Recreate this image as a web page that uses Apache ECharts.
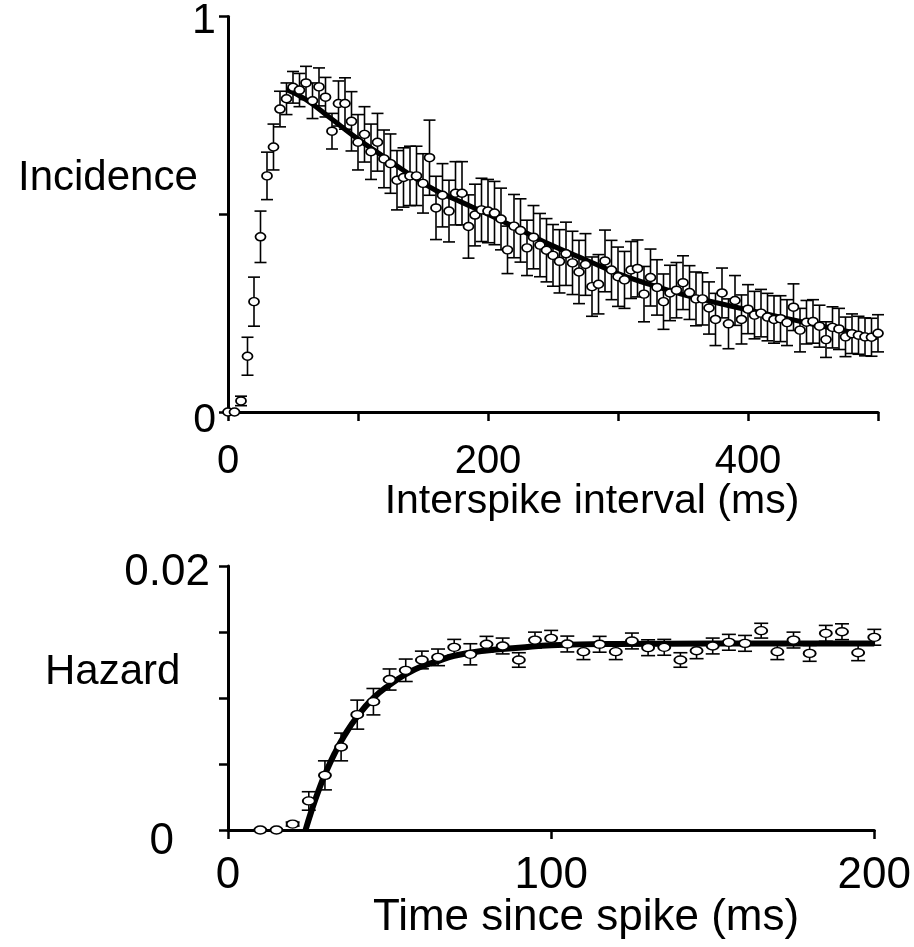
<!DOCTYPE html>
<html><head><meta charset="utf-8">
<script src="https://cdn.jsdelivr.net/npm/echarts@6/dist/echarts.min.js"></script>
<style>html,body{margin:0;padding:0;background:#fff}#c{width:914px;height:947px}</style>
</head><body><div id="c"></div>
<script>
// ---------- Top panel: incidence vs interspike interval ----------
const isiTimes = [0,5,10,15,20,25,30,35,40,45,50,55,60,65,70,75,80,85,90,95,
  100,105,110,115,120,125,130,135,140,145,150,155,160,165,170,175,180,185,190,195,
  200,205,210,215,220,225,230,235,240,245,250,255,260,265,270,275,280,285,290,295,
  300,305,310,315,320,325,330,335,340,345,350,355,360,365,370,375,380,385,390,395,
  400,405,410,415,420,425,430,435,440,445,450,455,460,465,470,475,480,485,490,495,500];
const incidence = [0,0,0.028,0.141,0.279,0.443,0.597,0.670,0.766,0.792,
  0.821,0.814,0.832,0.787,0.822,0.796,0.710,0.780,0.780,0.735,
  0.682,0.702,0.658,0.682,0.640,0.628,0.586,0.593,0.597,0.597,
  0.578,0.643,0.516,0.548,0.508,0.553,0.553,0.469,0.498,0.511,
  0.508,0.503,0.488,0.410,0.470,0.459,0.415,0.442,0.422,0.409,
  0.396,0.381,0.400,0.377,0.354,0.373,0.317,0.323,0.382,0.359,
  0.342,0.334,0.359,0.363,0.298,0.340,0.315,0.279,0.301,0.308,
  0.327,0.302,0.286,0.286,0.263,0.234,0.301,0.223,0.282,0.234,
  0.260,0.245,0.250,0.240,0.234,0.236,0.226,0.265,0.207,0.227,
  0.229,0.217,0.183,0.214,0.210,0.190,0.198,0.194,0.190,0.189,0.199];
const incidenceErr = [0,0,0.012,0.048,0.062,0.065,0.060,0.058,0.045,0.040,
  0.040,0.042,0.042,0.045,0.048,0.050,0.045,0.057,0.065,0.075,
  0.070,0.070,0.070,0.073,0.073,0.075,0.075,0.075,0.075,0.075,
  0.075,0.095,0.080,0.080,0.078,0.080,0.080,0.080,0.078,0.080,
  0.080,0.080,0.078,0.060,0.080,0.080,0.070,0.080,0.080,0.080,
  0.078,0.080,0.080,0.080,0.080,0.078,0.075,0.075,0.078,0.075,
  0.075,0.072,0.072,0.072,0.070,0.072,0.070,0.070,0.070,0.070,
  0.068,0.068,0.068,0.066,0.066,0.066,0.063,0.063,0.063,0.062,
  0.062,0.060,0.060,0.060,0.060,0.058,0.058,0.059,0.055,0.055,
  0.055,0.053,0.045,0.052,0.052,0.050,0.050,0.048,0.048,0.048,0.047];
const incFitT = [45,60,80,100,120,140,160,180,200,225,250,275,300,325,350,375,400,425,450,475,500];
const incFitV = [0.815,0.790,0.740,0.690,0.645,0.600,0.560,0.530,0.500,0.460,0.420,0.385,0.350,0.322,0.297,0.277,0.258,0.240,0.222,0.205,0.188];

// ---------- Bottom panel: hazard vs time since spike ----------
const hzTimes = [10,15,20,25,30,35,40,45,50,55,60,65,70,75,80,85,90,95,100,
  105,110,115,120,125,130,135,140,145,150,155,160,165,170,175,180,185,190,195,200];
const hazard = [0,0,0.00045,0.0022,0.00414,0.00629,0.00874,0.00972,0.0114,0.0121,
  0.01288,0.01308,0.01384,0.01331,0.01407,0.01394,0.01288,0.01439,0.01452,
  0.01409,0.01351,0.01407,0.01351,0.01432,0.01381,0.01384,0.01288,0.01358,0.01394,
  0.01422,0.01414,0.0151,0.01351,0.01439,0.01338,0.0149,0.01502,0.01343,0.0146];
const hazardErr = [0,0,0.00015,0.0007,0.0011,0.00105,0.0011,0.001,0.0008,0.00085,
  0.00067,0.00063,0.0006,0.0008,0.0006,0.0006,0.00055,0.0006,0.0006,
  0.0006,0.0006,0.0006,0.0006,0.0006,0.0006,0.0006,0.00055,0.0006,0.0006,
  0.0006,0.0006,0.00056,0.0006,0.0006,0.0006,0.0006,0.0006,0.0006,0.0006];
const hzFitT = [24,26,28,30,33,36,40,45,50,55,60,65,70,80,90,100,120,150,200];
const hzFitV = [0,0.00157,0.00297,0.0042,0.0058,0.00714,0.0086,0.0100,0.0110,0.0118,0.0124,0.0128,0.0132,0.0136,0.0138,0.0140,0.01410,0.01412,0.01412];

const topTickLabels = ['0','200','400'];
const botTickLabels = ['0','100','200'];
const FONT = 'Liberation Sans, Arial, Helvetica, sans-serif';

function zip(a,b){ return a.map((v,i)=>[v,b[i]]); }
function errData(t,v,e){ const out=[]; t.forEach((x,i)=>{ if(e[i]>0) out.push([x,v[i]-e[i],v[i]+e[i]]); }); return out; }
function errRender(capHalf){
  return function(params, api){
    const x = api.value(0), lo = api.value(1), hi = api.value(2);
    const a = api.coord([x,hi]), b = api.coord([x,lo]);
    const st = {stroke:'#000', lineWidth:1.6, fill:null};
    return {type:'group', children:[
      {type:'line', shape:{x1:a[0],y1:a[1],x2:b[0],y2:b[1]}, style:st},
      {type:'line', shape:{x1:a[0]-capHalf,y1:a[1],x2:a[0]+capHalf,y2:a[1]}, style:st},
      {type:'line', shape:{x1:b[0]-capHalf,y1:b[1],x2:b[0]+capHalf,y2:b[1]}, style:st}
    ]};
  };
}
const axisLine = {show:true, onZero:false, lineStyle:{color:'#000', width:3}};
const axisTick = {show:true, inside:false, length:9, lineStyle:{color:'#000', width:2.5}};
function lbl(fs){ return {color:'#000', fontFamily:FONT, fontSize:fs}; }

const chart = echarts.init(document.getElementById('c'), null, {renderer:'canvas'});
chart.setOption({
  backgroundColor:'#fff',
  animation:false,
  grid:[
    {left:228, top:14, width:650, height:398},
    {left:228, top:566, width:648, height:264}
  ],
  xAxis:[
    {gridIndex:0, type:'value', min:0, max:500, interval:100, axisLine, axisTick,
     splitLine:{show:false},
     axisLabel:Object.assign(lbl(40), {margin:30,
       formatter:v=> topTickLabels.indexOf(String(v))>=0 ? String(v) : ''})},
    {gridIndex:1, type:'value', min:0, max:200, interval:100, axisLine, axisTick,
     splitLine:{show:false},
     axisLabel:Object.assign(lbl(44), {margin:24,
       formatter:v=> botTickLabels.indexOf(String(v))>=0 ? String(v) : ''})}
  ],
  yAxis:[
    {gridIndex:0, type:'value', min:0, max:1, interval:0.5, axisLine, axisTick,
     splitLine:{show:false},
     axisLabel:Object.assign(lbl(42), {margin:12, verticalAlign:'middle',
       formatter:v=> v===0 ? '{z|0}' : (v===1 ? '{o|1}' : ''),
       rich:{z:{fontSize:41, fontFamily:FONT, color:'#000', padding:[18,0,0,0]},
             o:{fontSize:43, fontFamily:FONT, color:'#000', padding:[10,0,0,0]}}})},
    {gridIndex:1, type:'value', min:0, max:0.02, interval:0.005, axisLine, axisTick,
     splitLine:{show:false},
     axisLabel:Object.assign(lbl(44), {margin:18, verticalAlign:'middle',
       formatter:v=> Math.abs(v)<1e-9 ? '{z|0}' : (Math.abs(v-0.02)<1e-9 ? '{o|0.02}' : ''),
       rich:{z:{fontSize:44, fontFamily:FONT, color:'#000', padding:[24,36,0,0]},
             o:{fontSize:44, fontFamily:FONT, color:'#000', padding:[14,0,0,0]}}})}
  ],
  graphic:[
    {type:'text', x:18, y:178, style:{text:'Incidence', font:'42px '+FONT, fill:'#000', textVerticalAlign:'middle'}},
    {type:'text', x:592, y:502, style:{text:'Interspike interval (ms)', font:'41px '+FONT, fill:'#000', textAlign:'center', textVerticalAlign:'middle'}},
    {type:'text', x:45, y:672, style:{text:'Hazard', font:'42px '+FONT, fill:'#000', textVerticalAlign:'middle'}},
    {type:'text', x:586, y:918, style:{text:'Time since spike (ms)', font:'44px '+FONT, fill:'#000', textAlign:'center', textVerticalAlign:'middle'}}
  ],
  series:[
    {type:'custom', xAxisIndex:0, yAxisIndex:0, renderItem:errRender(6), data:errData(isiTimes,incidence,incidenceErr), z:2, clip:false},
    {type:'line', xAxisIndex:0, yAxisIndex:0, data:zip(incFitT,incFitV), smooth:true, showSymbol:false, lineStyle:{color:'#000', width:5}, z:3},
    {type:'scatter', xAxisIndex:0, yAxisIndex:0, data:zip(isiTimes,incidence), symbol:'circle', symbolSize:[10,8],
     itemStyle:{color:'#fff', borderColor:'#000', borderWidth:1.6, opacity:1}, z:4},
    {type:'custom', xAxisIndex:1, yAxisIndex:1, renderItem:errRender(7), data:errData(hzTimes,hazard,hazardErr), z:2, clip:false},
    {type:'line', xAxisIndex:1, yAxisIndex:1, data:zip(hzFitT,hzFitV), smooth:true, showSymbol:false, lineStyle:{color:'#000', width:6}, z:3},
    {type:'scatter', xAxisIndex:1, yAxisIndex:1, data:zip(hzTimes,hazard), symbol:'circle', symbolSize:[12,8],
     itemStyle:{color:'#fff', borderColor:'#000', borderWidth:1.6, opacity:1}, z:4}
  ]
});
</script>
</body></html>
